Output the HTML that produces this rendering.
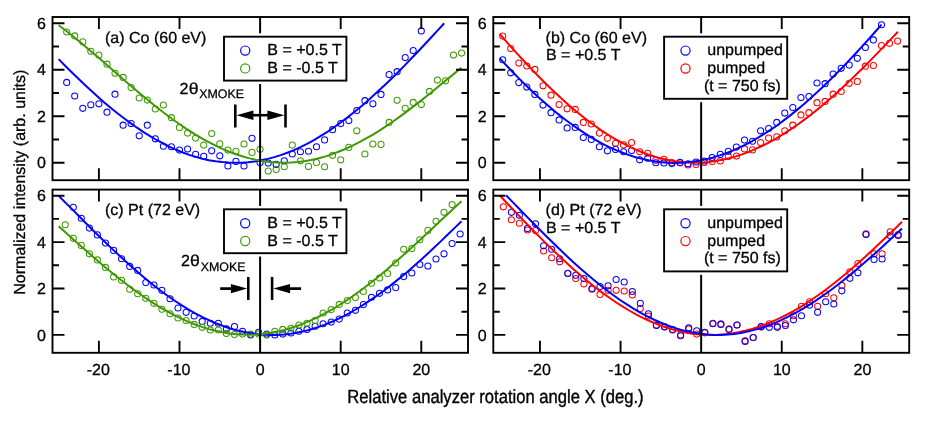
<!DOCTYPE html>
<html><head><meta charset="utf-8"><title>XMOKE analyzer scans</title>
<style>html,body{margin:0;padding:0;background:#fff}body{width:926px;height:425px;overflow:hidden;font-family:"Liberation Sans",sans-serif}svg text{stroke:#000;stroke-width:0.3px;stroke-linejoin:round}svg text.t{stroke-width:0.4px}</style></head>
<body>
<svg width="926" height="425" viewBox="0 0 926 425" style="display:block">
<rect width="926" height="425" fill="#fff"/>
<g font-family="'Liberation Sans', sans-serif" font-size="16" fill="#000" text-rendering="geometricPrecision" style="opacity:0.999">
<g fill="none" stroke-width="1.05">
<g stroke="#0000ff"><circle cx="66.7" cy="82.4" r="3.05"/><circle cx="74.7" cy="96.0" r="3.05"/><circle cx="82.8" cy="108.3" r="3.05"/><circle cx="90.8" cy="104.8" r="3.05"/><circle cx="98.9" cy="103.8" r="3.05"/><circle cx="107.0" cy="112.2" r="3.05"/><circle cx="115.0" cy="94.2" r="3.05"/><circle cx="123.1" cy="125.2" r="3.05"/><circle cx="131.1" cy="123.6" r="3.05"/><circle cx="139.2" cy="135.8" r="3.05"/><circle cx="147.3" cy="125.2" r="3.05"/><circle cx="155.3" cy="138.8" r="3.05"/><circle cx="163.4" cy="146.2" r="3.05"/><circle cx="171.4" cy="146.7" r="3.05"/><circle cx="179.5" cy="150.1" r="3.05"/><circle cx="187.6" cy="149.0" r="3.05"/><circle cx="195.6" cy="154.2" r="3.05"/><circle cx="203.7" cy="156.2" r="3.05"/><circle cx="211.7" cy="150.8" r="3.05"/><circle cx="219.8" cy="155.8" r="3.05"/><circle cx="227.9" cy="166.0" r="3.05"/><circle cx="235.9" cy="161.4" r="3.05"/><circle cx="244.0" cy="166.0" r="3.05"/><circle cx="252.0" cy="138.3" r="3.05"/><circle cx="260.1" cy="162.6" r="3.05"/><circle cx="268.2" cy="163.0" r="3.05"/><circle cx="276.2" cy="164.4" r="3.05"/><circle cx="284.3" cy="160.8" r="3.05"/><circle cx="292.3" cy="154.0" r="3.05"/><circle cx="300.4" cy="151.7" r="3.05"/><circle cx="308.5" cy="151.2" r="3.05"/><circle cx="316.5" cy="146.7" r="3.05"/><circle cx="324.6" cy="139.9" r="3.05"/><circle cx="332.6" cy="129.7" r="3.05"/><circle cx="340.7" cy="123.6" r="3.05"/><circle cx="348.8" cy="120.6" r="3.05"/><circle cx="356.8" cy="110.5" r="3.05"/><circle cx="364.9" cy="100.7" r="3.05"/><circle cx="372.9" cy="103.8" r="3.05"/><circle cx="381.0" cy="94.4" r="3.05"/><circle cx="389.1" cy="74.6" r="3.05"/><circle cx="397.1" cy="71.7" r="3.05"/><circle cx="405.2" cy="57.6" r="3.05"/><circle cx="413.2" cy="50.6" r="3.05"/><circle cx="421.3" cy="30.9" r="3.05"/></g>
<g stroke="#3f9800"><circle cx="66.7" cy="32.0" r="3.05"/><circle cx="74.7" cy="35.9" r="3.05"/><circle cx="82.8" cy="41.8" r="3.05"/><circle cx="90.8" cy="51.3" r="3.05"/><circle cx="98.9" cy="55.1" r="3.05"/><circle cx="107.0" cy="64.2" r="3.05"/><circle cx="115.0" cy="73.3" r="3.05"/><circle cx="123.1" cy="77.4" r="3.05"/><circle cx="131.1" cy="87.6" r="3.05"/><circle cx="139.2" cy="98.0" r="3.05"/><circle cx="147.3" cy="100.1" r="3.05"/><circle cx="155.3" cy="109.0" r="3.05"/><circle cx="163.4" cy="105.1" r="3.05"/><circle cx="171.4" cy="117.7" r="3.05"/><circle cx="179.5" cy="127.4" r="3.05"/><circle cx="187.6" cy="133.1" r="3.05"/><circle cx="195.6" cy="138.1" r="3.05"/><circle cx="203.7" cy="145.1" r="3.05"/><circle cx="211.7" cy="133.5" r="3.05"/><circle cx="219.8" cy="143.7" r="3.05"/><circle cx="227.9" cy="150.1" r="3.05"/><circle cx="235.9" cy="151.2" r="3.05"/><circle cx="244.0" cy="144.0" r="3.05"/><circle cx="252.0" cy="152.4" r="3.05"/><circle cx="260.1" cy="149.2" r="3.05"/><circle cx="268.2" cy="171.0" r="3.05"/><circle cx="276.2" cy="169.4" r="3.05"/><circle cx="284.3" cy="166.7" r="3.05"/><circle cx="292.3" cy="145.1" r="3.05"/><circle cx="300.4" cy="160.8" r="3.05"/><circle cx="308.5" cy="166.4" r="3.05"/><circle cx="316.5" cy="162.6" r="3.05"/><circle cx="324.6" cy="166.7" r="3.05"/><circle cx="332.6" cy="155.3" r="3.05"/><circle cx="340.7" cy="159.8" r="3.05"/><circle cx="348.8" cy="147.4" r="3.05"/><circle cx="356.8" cy="130.8" r="3.05"/><circle cx="364.9" cy="154.0" r="3.05"/><circle cx="372.9" cy="144.0" r="3.05"/><circle cx="381.0" cy="144.4" r="3.05"/><circle cx="389.1" cy="122.4" r="3.05"/><circle cx="397.1" cy="100.3" r="3.05"/><circle cx="405.2" cy="108.3" r="3.05"/><circle cx="413.2" cy="102.4" r="3.05"/><circle cx="421.3" cy="104.6" r="3.05"/><circle cx="429.4" cy="91.4" r="3.05"/><circle cx="437.4" cy="80.1" r="3.05"/><circle cx="445.5" cy="80.8" r="3.05"/><circle cx="453.5" cy="55.1" r="3.05"/><circle cx="461.6" cy="53.1" r="3.05"/></g>
</g>
<path d="M58.6,59.1 L65.1,65.7 L71.7,72.2 L78.2,78.5 L84.7,84.7 L91.3,90.8 L97.8,96.7 L104.3,102.4 L110.9,107.9 L117.4,113.2 L124.0,118.2 L130.5,123.1 L137.0,127.7 L143.6,132.1 L150.1,136.2 L156.6,140.0 L163.2,143.5 L169.7,146.8 L176.2,149.8 L182.8,152.5 L189.3,154.9 L195.8,156.9 L202.4,158.7 L208.9,160.2 L215.5,161.3 L222.0,162.1 L228.5,162.6 L235.1,162.8 L241.6,162.7 L248.1,162.2 L254.7,161.4 L261.2,160.3 L267.7,158.9 L274.3,157.1 L280.8,155.1 L287.3,152.7 L293.9,150.1 L300.4,147.1 L307.0,143.8 L313.5,140.3 L320.0,136.4 L326.6,132.3 L333.1,128.0 L339.6,123.3 L346.2,118.4 L352.7,113.3 L359.2,108.0 L365.8,102.4 L372.3,96.6 L378.8,90.6 L385.4,84.5 L391.9,78.2 L398.5,71.7 L405.0,65.1 L411.5,58.3 L418.1,51.5 L424.6,44.5 L431.1,37.5 L437.7,30.4 L444.2,23.3" fill="none" stroke="#0000ff" stroke-width="2"/>
<path d="M58.6,25.2 L65.4,30.3 L72.3,35.7 L79.1,41.2 L85.9,46.9 L92.7,52.7 L99.6,58.6 L106.4,64.5 L113.2,70.5 L120.0,76.4 L126.9,82.4 L133.7,88.2 L140.5,94.0 L147.3,99.6 L154.2,105.2 L161.0,110.5 L167.8,115.7 L174.6,120.7 L181.5,125.5 L188.3,130.1 L195.1,134.4 L201.9,138.4 L208.8,142.2 L215.6,145.7 L222.4,148.9 L229.2,151.7 L236.1,154.3 L242.9,156.5 L249.7,158.4 L256.5,160.0 L263.4,161.2 L270.2,162.1 L277.0,162.6 L283.8,162.8 L290.7,162.6 L297.5,162.1 L304.3,161.2 L311.1,160.0 L318.0,158.5 L324.8,156.6 L331.6,154.4 L338.4,151.8 L345.3,149.0 L352.1,145.9 L358.9,142.4 L365.7,138.7 L372.6,134.8 L379.4,130.6 L386.2,126.1 L393.0,121.5 L399.9,116.6 L406.7,111.6 L413.5,106.4 L420.3,101.1 L427.2,95.7 L434.0,90.2 L440.8,84.6 L447.6,79.0 L454.5,73.4 L461.3,67.8" fill="none" stroke="#3f9800" stroke-width="2"/>
<line x1="260.1" y1="17.0" x2="260.1" y2="180.2" stroke="#000" stroke-width="2"/>
<path d="M98.90,17.0v12 M98.90,180.2v-12 M179.50,17.0v12 M179.50,180.2v-12 M340.70,17.0v12 M340.70,180.2v-12 M421.30,17.0v12 M421.30,180.2v-12 M52.5,162.75h12 M468.0,162.75h-12 M52.5,139.49h6.5 M468.0,139.49h-6.5 M52.5,116.23h12 M468.0,116.23h-12 M52.5,92.97h6.5 M468.0,92.97h-6.5 M52.5,69.71h12 M468.0,69.71h-12 M52.5,46.45h6.5 M468.0,46.45h-6.5 M52.5,23.19h12 M468.0,23.19h-12" stroke="#000" stroke-width="1.9" fill="none"/>
<rect x="52.5" y="17.0" width="415.50" height="163.20" fill="none" stroke="#000" stroke-width="1.9"/>
<text x="45.9" y="168.4" text-anchor="end">0</text>
<text x="45.9" y="121.9" text-anchor="end">2</text>
<text x="45.9" y="75.4" text-anchor="end">4</text>
<text x="45.9" y="28.9" text-anchor="end">6</text>
<rect x="220.6" y="33.300000000000004" width="129.2" height="50.69999999999999" fill="#fff"/>
<rect x="224.0" y="36.7" width="122.4" height="43.9" fill="#fff" stroke="#000" stroke-width="1.9"/>
<circle cx="245.2" cy="50.6" r="4.6" fill="none" stroke="#0000ff" stroke-width="1.2"/>
<circle cx="245.2" cy="68.4" r="4.6" fill="none" stroke="#3f9800" stroke-width="1.2"/>
<text x="267.3" y="55.4">B = +0.5 T</text>
<text x="267.3" y="73.1">B = -0.5 T</text>
<text x="105.0" y="42.6">(a) Co (60 eV)</text>
<g fill="none" stroke-width="1.05">
<g stroke="#ff0000"><circle cx="502.7" cy="36.1" r="3.05"/><circle cx="510.7" cy="48.6" r="3.05"/><circle cx="518.8" cy="63.1" r="3.05"/><circle cx="526.8" cy="66.0" r="3.05"/><circle cx="534.9" cy="69.4" r="3.05"/><circle cx="543.0" cy="85.8" r="3.05"/><circle cx="551.0" cy="95.2" r="3.05"/><circle cx="559.1" cy="104.6" r="3.05"/><circle cx="567.1" cy="108.8" r="3.05"/><circle cx="575.2" cy="109.4" r="3.05"/><circle cx="583.3" cy="122.4" r="3.05"/><circle cx="591.3" cy="124.0" r="3.05"/><circle cx="599.4" cy="133.1" r="3.05"/><circle cx="607.4" cy="138.3" r="3.05"/><circle cx="615.5" cy="143.3" r="3.05"/><circle cx="623.6" cy="144.9" r="3.05"/><circle cx="631.6" cy="142.6" r="3.05"/><circle cx="639.7" cy="151.8" r="3.05"/><circle cx="647.7" cy="153.2" r="3.05"/><circle cx="655.8" cy="160.3" r="3.05"/><circle cx="663.9" cy="159.3" r="3.05"/><circle cx="671.9" cy="162.5" r="3.05"/><circle cx="680.0" cy="162.8" r="3.05"/><circle cx="688.0" cy="165.0" r="3.05"/><circle cx="696.1" cy="164.4" r="3.05"/><circle cx="704.2" cy="162.5" r="3.05"/><circle cx="712.2" cy="161.6" r="3.05"/><circle cx="720.3" cy="160.9" r="3.05"/><circle cx="728.3" cy="156.5" r="3.05"/><circle cx="736.4" cy="156.1" r="3.05"/><circle cx="744.5" cy="149.0" r="3.05"/><circle cx="752.5" cy="149.9" r="3.05"/><circle cx="760.6" cy="142.6" r="3.05"/><circle cx="768.6" cy="138.1" r="3.05"/><circle cx="776.7" cy="136.9" r="3.05"/><circle cx="784.8" cy="130.8" r="3.05"/><circle cx="792.8" cy="125.2" r="3.05"/><circle cx="800.9" cy="114.9" r="3.05"/><circle cx="808.9" cy="112.7" r="3.05"/><circle cx="817.0" cy="102.7" r="3.05"/><circle cx="825.1" cy="101.4" r="3.05"/><circle cx="833.1" cy="94.2" r="3.05"/><circle cx="841.2" cy="91.5" r="3.05"/><circle cx="849.2" cy="83.3" r="3.05"/><circle cx="857.3" cy="81.4" r="3.05"/><circle cx="865.4" cy="66.2" r="3.05"/><circle cx="873.4" cy="65.6" r="3.05"/><circle cx="881.5" cy="45.6" r="3.05"/><circle cx="889.5" cy="43.3" r="3.05"/><circle cx="897.6" cy="41.1" r="3.05"/></g>
<g stroke="#0000ff"><circle cx="502.7" cy="59.7" r="3.05"/><circle cx="510.7" cy="72.8" r="3.05"/><circle cx="518.8" cy="82.6" r="3.05"/><circle cx="526.8" cy="87.1" r="3.05"/><circle cx="534.9" cy="94.4" r="3.05"/><circle cx="543.0" cy="105.1" r="3.05"/><circle cx="551.0" cy="112.7" r="3.05"/><circle cx="559.1" cy="119.9" r="3.05"/><circle cx="567.1" cy="127.9" r="3.05"/><circle cx="575.2" cy="127.4" r="3.05"/><circle cx="583.3" cy="137.6" r="3.05"/><circle cx="591.3" cy="139.4" r="3.05"/><circle cx="599.4" cy="146.7" r="3.05"/><circle cx="607.4" cy="150.8" r="3.05"/><circle cx="615.5" cy="149.4" r="3.05"/><circle cx="623.6" cy="151.7" r="3.05"/><circle cx="631.6" cy="150.6" r="3.05"/><circle cx="639.7" cy="159.8" r="3.05"/><circle cx="647.7" cy="158.2" r="3.05"/><circle cx="655.8" cy="162.7" r="3.05"/><circle cx="663.9" cy="163.0" r="3.05"/><circle cx="671.9" cy="163.6" r="3.05"/><circle cx="680.0" cy="162.4" r="3.05"/><circle cx="688.0" cy="163.8" r="3.05"/><circle cx="696.1" cy="162.0" r="3.05"/><circle cx="704.2" cy="161.0" r="3.05"/><circle cx="712.2" cy="157.5" r="3.05"/><circle cx="720.3" cy="154.4" r="3.05"/><circle cx="728.3" cy="151.2" r="3.05"/><circle cx="736.4" cy="147.1" r="3.05"/><circle cx="744.5" cy="140.1" r="3.05"/><circle cx="752.5" cy="141.2" r="3.05"/><circle cx="760.6" cy="130.8" r="3.05"/><circle cx="768.6" cy="128.6" r="3.05"/><circle cx="776.7" cy="122.4" r="3.05"/><circle cx="784.8" cy="113.1" r="3.05"/><circle cx="792.8" cy="107.5" r="3.05"/><circle cx="800.9" cy="97.6" r="3.05"/><circle cx="808.9" cy="96.5" r="3.05"/><circle cx="817.0" cy="83.0" r="3.05"/><circle cx="825.1" cy="83.7" r="3.05"/><circle cx="833.1" cy="74.0" r="3.05"/><circle cx="841.2" cy="68.3" r="3.05"/><circle cx="849.2" cy="65.1" r="3.05"/><circle cx="857.3" cy="58.3" r="3.05"/><circle cx="865.4" cy="47.4" r="3.05"/><circle cx="873.4" cy="39.9" r="3.05"/><circle cx="881.5" cy="24.7" r="3.05"/></g>
</g>
<path d="M499.7,34.0 L506.4,41.7 L513.2,49.3 L519.9,56.7 L526.7,64.0 L533.4,71.1 L540.2,78.0 L546.9,84.8 L553.7,91.3 L560.4,97.6 L567.2,103.7 L573.9,109.5 L580.7,115.0 L587.4,120.3 L594.2,125.3 L600.9,130.1 L607.7,134.5 L614.4,138.6 L621.2,142.4 L627.9,145.9 L634.7,149.1 L641.4,152.0 L648.2,154.5 L654.9,156.7 L661.7,158.6 L668.4,160.1 L675.2,161.2 L681.9,162.1 L688.7,162.6 L695.4,162.7 L702.2,162.5 L708.9,161.9 L715.7,161.1 L722.4,159.8 L729.2,158.3 L735.9,156.4 L742.7,154.1 L749.4,151.6 L756.2,148.7 L762.9,145.5 L769.7,142.1 L776.4,138.3 L783.2,134.2 L789.9,129.9 L796.7,125.3 L803.4,120.4 L810.2,115.2 L816.9,109.9 L823.7,104.3 L830.4,98.5 L837.2,92.5 L843.9,86.3 L850.7,79.9 L857.4,73.3 L864.2,66.7 L870.9,59.9 L877.7,52.9 L884.4,45.9 L891.2,38.9 L897.9,31.7" fill="none" stroke="#ff0000" stroke-width="2"/>
<path d="M499.7,58.4 L506.2,65.3 L512.6,72.0 L519.1,78.6 L525.6,85.0 L532.1,91.2 L538.5,97.2 L545.0,103.0 L551.5,108.6 L557.9,113.9 L564.4,119.0 L570.9,123.8 L577.4,128.4 L583.8,132.7 L590.3,136.8 L596.8,140.6 L603.2,144.1 L609.7,147.3 L616.2,150.2 L622.7,152.8 L629.1,155.1 L635.6,157.2 L642.1,158.9 L648.5,160.3 L655.0,161.4 L661.5,162.2 L668.0,162.7 L674.4,162.9 L680.9,162.7 L687.4,162.3 L693.8,161.5 L700.3,160.5 L706.8,159.1 L713.2,157.4 L719.7,155.4 L726.2,153.2 L732.7,150.6 L739.1,147.7 L745.6,144.6 L752.1,141.1 L758.5,137.4 L765.0,133.4 L771.5,129.2 L778.0,124.7 L784.4,119.9 L790.9,114.9 L797.4,109.6 L803.8,104.2 L810.3,98.5 L816.8,92.6 L823.3,86.5 L829.7,80.2 L836.2,73.8 L842.7,67.2 L849.1,60.4 L855.6,53.5 L862.1,46.4 L868.6,39.3 L875.0,32.0 L881.5,24.6" fill="none" stroke="#0000ff" stroke-width="2"/>
<line x1="701.15" y1="17.0" x2="701.15" y2="180.2" stroke="#000" stroke-width="2"/>
<path d="M539.95,17.0v12 M539.95,180.2v-12 M620.55,17.0v12 M620.55,180.2v-12 M781.75,17.0v12 M781.75,180.2v-12 M862.35,17.0v12 M862.35,180.2v-12 M493.3,162.75h12 M909.2,162.75h-12 M493.3,139.49h6.5 M909.2,139.49h-6.5 M493.3,116.23h12 M909.2,116.23h-12 M493.3,92.97h6.5 M909.2,92.97h-6.5 M493.3,69.71h12 M909.2,69.71h-12 M493.3,46.45h6.5 M909.2,46.45h-6.5 M493.3,23.19h12 M909.2,23.19h-12" stroke="#000" stroke-width="1.9" fill="none"/>
<rect x="493.3" y="17.0" width="415.90" height="163.20" fill="none" stroke="#000" stroke-width="1.9"/>
<text x="486.7" y="168.4" text-anchor="end">0</text>
<text x="486.7" y="121.9" text-anchor="end">2</text>
<text x="486.7" y="75.4" text-anchor="end">4</text>
<text x="486.7" y="28.9" text-anchor="end">6</text>
<rect x="660.7" y="33.300000000000004" width="129.90000000000003" height="68.89999999999999" fill="#fff"/>
<rect x="664.1" y="36.7" width="123.1" height="62.1" fill="#fff" stroke="#000" stroke-width="1.9"/>
<circle cx="685.5" cy="50.6" r="4.6" fill="none" stroke="#0000ff" stroke-width="1.2"/>
<circle cx="685.5" cy="68.5" r="4.6" fill="none" stroke="#ff0000" stroke-width="1.2"/>
<text x="707.3" y="55.4">unpumped</text>
<text x="707.3" y="73.2">pumped</text>
<text x="703.9" y="90.8">(t = 750 fs)</text>
<text x="545.6" y="42.6">(b) Co (60 eV)</text>
<text x="546.0" y="60.2">B = +0.5 T</text>
<g fill="none" stroke-width="1.05">
<g stroke="#0000ff"><circle cx="73.3" cy="207.3" r="3.05"/><circle cx="81.3" cy="218.2" r="3.05"/><circle cx="89.4" cy="228.1" r="3.05"/><circle cx="97.4" cy="234.9" r="3.05"/><circle cx="105.5" cy="243.1" r="3.05"/><circle cx="113.6" cy="250.4" r="3.05"/><circle cx="121.6" cy="258.8" r="3.05"/><circle cx="129.7" cy="266.4" r="3.05"/><circle cx="137.7" cy="270.4" r="3.05"/><circle cx="145.8" cy="282.6" r="3.05"/><circle cx="153.9" cy="285.0" r="3.05"/><circle cx="161.9" cy="290.3" r="3.05"/><circle cx="170.0" cy="298.7" r="3.05"/><circle cx="178.0" cy="308.0" r="3.05"/><circle cx="186.1" cy="312.3" r="3.05"/><circle cx="194.2" cy="316.0" r="3.05"/><circle cx="202.2" cy="321.4" r="3.05"/><circle cx="210.3" cy="323.2" r="3.05"/><circle cx="218.3" cy="323.2" r="3.05"/><circle cx="226.4" cy="328.9" r="3.05"/><circle cx="234.5" cy="326.6" r="3.05"/><circle cx="242.5" cy="331.2" r="3.05"/><circle cx="250.6" cy="335.0" r="3.05"/><circle cx="258.6" cy="332.3" r="3.05"/><circle cx="266.7" cy="334.1" r="3.05"/><circle cx="274.8" cy="335.0" r="3.05"/><circle cx="282.8" cy="334.1" r="3.05"/><circle cx="290.9" cy="333.0" r="3.05"/><circle cx="298.9" cy="331.2" r="3.05"/><circle cx="307.0" cy="329.4" r="3.05"/><circle cx="315.1" cy="326.2" r="3.05"/><circle cx="323.1" cy="323.7" r="3.05"/><circle cx="331.2" cy="322.1" r="3.05"/><circle cx="339.2" cy="319.1" r="3.05"/><circle cx="347.3" cy="313.0" r="3.05"/><circle cx="355.4" cy="310.3" r="3.05"/><circle cx="363.4" cy="304.6" r="3.05"/><circle cx="371.5" cy="297.2" r="3.05"/><circle cx="379.5" cy="293.3" r="3.05"/><circle cx="387.6" cy="289.9" r="3.05"/><circle cx="395.7" cy="287.6" r="3.05"/><circle cx="403.7" cy="276.6" r="3.05"/><circle cx="411.8" cy="273.0" r="3.05"/><circle cx="419.8" cy="264.5" r="3.05"/><circle cx="427.9" cy="266.0" r="3.05"/><circle cx="436.0" cy="259.0" r="3.05"/><circle cx="444.0" cy="253.8" r="3.05"/><circle cx="452.1" cy="243.6" r="3.05"/><circle cx="460.1" cy="234.0" r="3.05"/></g>
<g stroke="#3f9800"><circle cx="65.2" cy="224.7" r="3.05"/><circle cx="73.3" cy="238.3" r="3.05"/><circle cx="81.3" cy="245.4" r="3.05"/><circle cx="89.4" cy="253.8" r="3.05"/><circle cx="97.4" cy="259.9" r="3.05"/><circle cx="105.5" cy="267.4" r="3.05"/><circle cx="113.6" cy="276.9" r="3.05"/><circle cx="121.6" cy="280.3" r="3.05"/><circle cx="129.7" cy="289.2" r="3.05"/><circle cx="137.7" cy="293.7" r="3.05"/><circle cx="145.8" cy="298.3" r="3.05"/><circle cx="153.9" cy="303.3" r="3.05"/><circle cx="161.9" cy="309.2" r="3.05"/><circle cx="170.0" cy="313.7" r="3.05"/><circle cx="178.0" cy="318.0" r="3.05"/><circle cx="186.1" cy="320.5" r="3.05"/><circle cx="194.2" cy="324.4" r="3.05"/><circle cx="202.2" cy="327.3" r="3.05"/><circle cx="210.3" cy="330.0" r="3.05"/><circle cx="218.3" cy="330.0" r="3.05"/><circle cx="226.4" cy="333.4" r="3.05"/><circle cx="234.5" cy="334.6" r="3.05"/><circle cx="242.5" cy="334.1" r="3.05"/><circle cx="250.6" cy="334.1" r="3.05"/><circle cx="258.6" cy="334.1" r="3.05"/><circle cx="266.7" cy="335.0" r="3.05"/><circle cx="274.8" cy="331.2" r="3.05"/><circle cx="282.8" cy="329.4" r="3.05"/><circle cx="290.9" cy="328.2" r="3.05"/><circle cx="298.9" cy="325.0" r="3.05"/><circle cx="307.0" cy="323.2" r="3.05"/><circle cx="315.1" cy="320.5" r="3.05"/><circle cx="323.1" cy="313.0" r="3.05"/><circle cx="331.2" cy="309.6" r="3.05"/><circle cx="339.2" cy="304.4" r="3.05"/><circle cx="347.3" cy="300.6" r="3.05"/><circle cx="355.4" cy="297.6" r="3.05"/><circle cx="363.4" cy="291.5" r="3.05"/><circle cx="371.5" cy="283.2" r="3.05"/><circle cx="379.5" cy="278.0" r="3.05"/><circle cx="387.6" cy="273.5" r="3.05"/><circle cx="395.7" cy="263.0" r="3.05"/><circle cx="403.7" cy="249.2" r="3.05"/><circle cx="411.8" cy="248.6" r="3.05"/><circle cx="419.8" cy="239.7" r="3.05"/><circle cx="427.9" cy="230.4" r="3.05"/><circle cx="436.0" cy="221.3" r="3.05"/><circle cx="444.0" cy="212.3" r="3.05"/><circle cx="452.1" cy="204.6" r="3.05"/></g>
</g>
<path d="M58.6,195.7 L65.4,202.6 L72.3,209.4 L79.1,216.3 L85.9,223.2 L92.7,230.0 L99.6,236.7 L106.4,243.4 L113.2,249.9 L120.1,256.3 L126.9,262.5 L133.7,268.6 L140.5,274.5 L147.4,280.2 L154.2,285.7 L161.0,291.0 L167.9,296.0 L174.7,300.7 L181.5,305.2 L188.3,309.4 L195.2,313.3 L202.0,316.9 L208.8,320.2 L215.7,323.2 L222.5,325.8 L229.3,328.2 L236.1,330.2 L243.0,331.8 L249.8,333.1 L256.6,334.1 L263.5,334.7 L270.3,335.0 L277.1,334.9 L284.0,334.4 L290.8,333.7 L297.6,332.5 L304.4,331.1 L311.3,329.2 L318.1,327.1 L324.9,324.6 L331.8,321.8 L338.6,318.7 L345.4,315.3 L352.2,311.5 L359.1,307.5 L365.9,303.2 L372.7,298.6 L379.6,293.8 L386.4,288.7 L393.2,283.4 L400.0,277.9 L406.9,272.2 L413.7,266.3 L420.5,260.2 L427.4,253.9 L434.2,247.6 L441.0,241.1 L447.8,234.5 L454.7,227.9 L461.5,221.2" fill="none" stroke="#0000ff" stroke-width="2"/>
<path d="M58.6,226.2 L65.4,232.3 L72.3,238.4 L79.1,244.5 L85.9,250.6 L92.7,256.5 L99.6,262.4 L106.4,268.2 L113.2,273.8 L120.1,279.2 L126.9,284.5 L133.7,289.6 L140.5,294.5 L147.4,299.2 L154.2,303.6 L161.0,307.8 L167.9,311.7 L174.7,315.4 L181.5,318.7 L188.3,321.8 L195.2,324.5 L202.0,326.9 L208.8,329.1 L215.7,330.8 L222.5,332.3 L229.3,333.4 L236.1,334.2 L243.0,334.6 L249.8,334.7 L256.6,334.5 L263.5,333.9 L270.3,332.9 L277.1,331.6 L284.0,330.0 L290.8,328.0 L297.6,325.7 L304.4,323.1 L311.3,320.2 L318.1,317.0 L324.9,313.4 L331.8,309.6 L338.6,305.5 L345.4,301.1 L352.2,296.5 L359.1,291.6 L365.9,286.5 L372.7,281.2 L379.6,275.7 L386.4,270.0 L393.2,264.1 L400.0,258.1 L406.9,252.0 L413.7,245.8 L420.5,239.5 L427.4,233.1 L434.2,226.7 L441.0,220.3 L447.8,213.9 L454.7,207.6 L461.5,201.3" fill="none" stroke="#3f9800" stroke-width="2"/>
<line x1="260.1" y1="189.6" x2="260.1" y2="352.8" stroke="#000" stroke-width="2"/>
<path d="M98.90,189.6v12 M98.90,352.8v-12 M179.50,189.6v12 M179.50,352.8v-12 M340.70,189.6v12 M340.70,352.8v-12 M421.30,189.6v12 M421.30,352.8v-12 M52.5,334.90h12 M468.0,334.90h-12 M52.5,311.70h6.5 M468.0,311.70h-6.5 M52.5,288.50h12 M468.0,288.50h-12 M52.5,265.30h6.5 M468.0,265.30h-6.5 M52.5,242.10h12 M468.0,242.10h-12 M52.5,218.90h6.5 M468.0,218.90h-6.5 M52.5,195.70h12 M468.0,195.70h-12" stroke="#000" stroke-width="1.9" fill="none"/>
<rect x="52.5" y="189.6" width="415.50" height="163.20" fill="none" stroke="#000" stroke-width="1.9"/>
<text x="45.9" y="340.6" text-anchor="end">0</text>
<text x="45.9" y="294.2" text-anchor="end">2</text>
<text x="45.9" y="247.8" text-anchor="end">4</text>
<text x="45.9" y="201.4" text-anchor="end">6</text>
<text x="98.3" y="374.6" text-anchor="middle">-20</text>
<text x="178.9" y="374.6" text-anchor="middle">-10</text>
<text x="260.1" y="374.6" text-anchor="middle">0</text>
<text x="340.7" y="374.6" text-anchor="middle">10</text>
<text x="421.3" y="374.6" text-anchor="middle">20</text>
<rect x="220.6" y="205.9" width="129.2" height="50.699999999999974" fill="#fff"/>
<rect x="224.0" y="209.3" width="122.4" height="43.9" fill="#fff" stroke="#000" stroke-width="1.9"/>
<circle cx="245.2" cy="223.2" r="4.6" fill="none" stroke="#0000ff" stroke-width="1.2"/>
<circle cx="245.2" cy="241.0" r="4.6" fill="none" stroke="#3f9800" stroke-width="1.2"/>
<text x="267.3" y="228.0">B = +0.5 T</text>
<text x="267.3" y="245.7">B = -0.5 T</text>
<text x="105.0" y="215.2">(c) Pt (72 eV)</text>
<g fill="none" stroke-width="1.05">
<g stroke="#ff0000"><circle cx="503.3" cy="206.8" r="3.05"/><circle cx="511.4" cy="219.7" r="3.05"/><circle cx="519.4" cy="223.2" r="3.05"/><circle cx="527.5" cy="230.0" r="3.05"/><circle cx="535.5" cy="230.6" r="3.05"/><circle cx="543.6" cy="251.0" r="3.05"/><circle cx="551.7" cy="257.8" r="3.05"/><circle cx="559.7" cy="261.8" r="3.05"/><circle cx="567.8" cy="273.3" r="3.05"/><circle cx="575.8" cy="278.5" r="3.05"/><circle cx="583.9" cy="284.0" r="3.05"/><circle cx="592.0" cy="289.2" r="3.05"/><circle cx="600.0" cy="294.4" r="3.05"/><circle cx="608.1" cy="290.3" r="3.05"/><circle cx="616.1" cy="290.3" r="3.05"/><circle cx="624.2" cy="291.0" r="3.05"/><circle cx="632.3" cy="294.9" r="3.05"/><circle cx="640.3" cy="308.5" r="3.05"/><circle cx="648.4" cy="316.0" r="3.05"/><circle cx="656.4" cy="325.0" r="3.05"/><circle cx="664.5" cy="326.6" r="3.05"/><circle cx="672.6" cy="330.0" r="3.05"/><circle cx="680.6" cy="335.0" r="3.05"/><circle cx="688.7" cy="328.9" r="3.05"/><circle cx="696.7" cy="334.1" r="3.05"/><circle cx="704.8" cy="332.8" r="3.05"/><circle cx="712.9" cy="323.2" r="3.05"/><circle cx="720.9" cy="323.9" r="3.05"/><circle cx="729.0" cy="328.9" r="3.05"/><circle cx="737.0" cy="325.0" r="3.05"/><circle cx="745.1" cy="340.7" r="3.05"/><circle cx="753.2" cy="337.5" r="3.05"/><circle cx="761.2" cy="327.1" r="3.05"/><circle cx="769.3" cy="323.7" r="3.05"/><circle cx="777.3" cy="326.2" r="3.05"/><circle cx="785.4" cy="323.7" r="3.05"/><circle cx="793.5" cy="315.7" r="3.05"/><circle cx="801.5" cy="306.2" r="3.05"/><circle cx="809.6" cy="301.7" r="3.05"/><circle cx="817.6" cy="306.2" r="3.05"/><circle cx="825.7" cy="293.7" r="3.05"/><circle cx="833.8" cy="297.8" r="3.05"/><circle cx="841.8" cy="285.4" r="3.05"/><circle cx="849.9" cy="271.7" r="3.05"/><circle cx="857.9" cy="263.5" r="3.05"/><circle cx="866.0" cy="233.9" r="3.05"/><circle cx="874.1" cy="253.8" r="3.05"/><circle cx="882.1" cy="253.8" r="3.05"/><circle cx="890.2" cy="231.8" r="3.05"/><circle cx="898.2" cy="234.5" r="3.05"/></g>
<g stroke="#0000ff"><circle cx="511.4" cy="212.3" r="3.05"/><circle cx="519.4" cy="215.2" r="3.05"/><circle cx="527.5" cy="228.4" r="3.05"/><circle cx="535.5" cy="223.8" r="3.05"/><circle cx="543.6" cy="245.8" r="3.05"/><circle cx="551.7" cy="249.2" r="3.05"/><circle cx="559.7" cy="258.8" r="3.05"/><circle cx="567.8" cy="273.5" r="3.05"/><circle cx="575.8" cy="275.2" r="3.05"/><circle cx="583.9" cy="278.6" r="3.05"/><circle cx="592.0" cy="288.5" r="3.05"/><circle cx="600.0" cy="286.5" r="3.05"/><circle cx="608.1" cy="285.8" r="3.05"/><circle cx="616.1" cy="279.5" r="3.05"/><circle cx="624.2" cy="282.0" r="3.05"/><circle cx="632.3" cy="291.5" r="3.05"/><circle cx="640.3" cy="303.3" r="3.05"/><circle cx="648.4" cy="313.7" r="3.05"/><circle cx="656.4" cy="325.5" r="3.05"/><circle cx="664.5" cy="327.1" r="3.05"/><circle cx="672.6" cy="329.6" r="3.05"/><circle cx="680.6" cy="335.7" r="3.05"/><circle cx="688.7" cy="327.8" r="3.05"/><circle cx="696.7" cy="330.7" r="3.05"/><circle cx="704.8" cy="332.3" r="3.05"/><circle cx="712.9" cy="323.7" r="3.05"/><circle cx="720.9" cy="324.4" r="3.05"/><circle cx="729.0" cy="329.6" r="3.05"/><circle cx="737.0" cy="325.0" r="3.05"/><circle cx="745.1" cy="341.4" r="3.05"/><circle cx="753.2" cy="337.5" r="3.05"/><circle cx="761.2" cy="326.6" r="3.05"/><circle cx="769.3" cy="327.3" r="3.05"/><circle cx="777.3" cy="327.3" r="3.05"/><circle cx="785.4" cy="325.5" r="3.05"/><circle cx="793.5" cy="319.8" r="3.05"/><circle cx="801.5" cy="315.7" r="3.05"/><circle cx="809.6" cy="305.1" r="3.05"/><circle cx="817.6" cy="312.3" r="3.05"/><circle cx="825.7" cy="301.7" r="3.05"/><circle cx="833.8" cy="304.0" r="3.05"/><circle cx="841.8" cy="290.8" r="3.05"/><circle cx="849.9" cy="278.3" r="3.05"/><circle cx="857.9" cy="272.8" r="3.05"/><circle cx="866.0" cy="234.5" r="3.05"/><circle cx="874.1" cy="259.4" r="3.05"/><circle cx="882.1" cy="259.0" r="3.05"/><circle cx="890.2" cy="235.6" r="3.05"/><circle cx="898.2" cy="235.6" r="3.05"/></g>
</g>
<path d="M499.6,195.3 L506.4,202.5 L513.2,209.8 L520.1,216.9 L526.9,224.0 L533.7,231.0 L540.5,237.9 L547.3,244.7 L554.2,251.3 L561.0,257.8 L567.8,264.1 L574.6,270.2 L581.4,276.1 L588.3,281.8 L595.1,287.2 L601.9,292.4 L608.7,297.3 L615.5,302.0 L622.4,306.4 L629.2,310.5 L636.0,314.3 L642.8,317.8 L649.6,321.0 L656.5,323.9 L663.3,326.5 L670.1,328.7 L676.9,330.6 L683.7,332.2 L690.6,333.4 L697.4,334.3 L704.2,334.8 L711.0,335.0 L717.9,334.8 L724.7,334.3 L731.5,333.5 L738.3,332.3 L745.1,330.8 L752.0,329.0 L758.8,326.8 L765.6,324.3 L772.4,321.5 L779.2,318.4 L786.1,315.0 L792.9,311.3 L799.7,307.3 L806.5,303.1 L813.3,298.5 L820.2,293.8 L827.0,288.7 L833.8,283.5 L840.6,278.0 L847.4,272.4 L854.3,266.5 L861.1,260.5 L867.9,254.3 L874.7,248.0 L881.5,241.6 L888.4,235.1 L895.2,228.5 L902.0,221.8" fill="none" stroke="#ff0000" stroke-width="2"/>
<path d="M506.0,195.3 L512.7,202.1 L519.4,209.0 L526.1,215.9 L532.8,222.7 L539.6,229.5 L546.3,236.2 L553.0,242.8 L559.7,249.3 L566.4,255.7 L573.1,261.9 L579.8,268.0 L586.5,273.8 L593.3,279.5 L600.0,285.0 L606.7,290.2 L613.4,295.2 L620.1,300.0 L626.8,304.4 L633.5,308.6 L640.2,312.6 L646.9,316.2 L653.7,319.5 L660.4,322.5 L667.1,325.2 L673.8,327.6 L680.5,329.7 L687.2,331.4 L693.9,332.8 L700.6,333.8 L707.4,334.5 L714.1,334.9 L720.8,334.9 L727.5,334.6 L734.2,333.9 L740.9,332.9 L747.6,331.6 L754.3,329.9 L761.1,328.0 L767.8,325.7 L774.5,323.1 L781.2,320.1 L787.9,316.9 L794.6,313.4 L801.3,309.7 L808.0,305.6 L814.7,301.3 L821.5,296.7 L828.2,292.0 L834.9,287.0 L841.6,281.8 L848.3,276.4 L855.0,270.8 L861.7,265.1 L868.4,259.2 L875.2,253.2 L881.9,247.2 L888.6,241.0 L895.3,234.8 L902.0,228.6" fill="none" stroke="#0000ff" stroke-width="2"/>
<line x1="701.15" y1="189.6" x2="701.15" y2="352.8" stroke="#000" stroke-width="2"/>
<path d="M539.95,189.6v12 M539.95,352.8v-12 M620.55,189.6v12 M620.55,352.8v-12 M781.75,189.6v12 M781.75,352.8v-12 M862.35,189.6v12 M862.35,352.8v-12 M493.3,334.90h12 M909.2,334.90h-12 M493.3,311.70h6.5 M909.2,311.70h-6.5 M493.3,288.50h12 M909.2,288.50h-12 M493.3,265.30h6.5 M909.2,265.30h-6.5 M493.3,242.10h12 M909.2,242.10h-12 M493.3,218.90h6.5 M909.2,218.90h-6.5 M493.3,195.70h12 M909.2,195.70h-12" stroke="#000" stroke-width="1.9" fill="none"/>
<rect x="493.3" y="189.6" width="415.90" height="163.20" fill="none" stroke="#000" stroke-width="1.9"/>
<text x="486.7" y="340.6" text-anchor="end">0</text>
<text x="486.7" y="294.2" text-anchor="end">2</text>
<text x="486.7" y="247.8" text-anchor="end">4</text>
<text x="486.7" y="201.4" text-anchor="end">6</text>
<text x="539.3" y="374.6" text-anchor="middle">-20</text>
<text x="619.9" y="374.6" text-anchor="middle">-10</text>
<text x="701.1" y="374.6" text-anchor="middle">0</text>
<text x="781.8" y="374.6" text-anchor="middle">10</text>
<text x="862.4" y="374.6" text-anchor="middle">20</text>
<rect x="660.7" y="205.9" width="129.90000000000003" height="68.89999999999996" fill="#fff"/>
<rect x="664.1" y="209.3" width="123.1" height="62.1" fill="#fff" stroke="#000" stroke-width="1.9"/>
<circle cx="685.5" cy="223.2" r="4.6" fill="none" stroke="#0000ff" stroke-width="1.2"/>
<circle cx="685.5" cy="241.1" r="4.6" fill="none" stroke="#ff0000" stroke-width="1.2"/>
<text x="707.3" y="228.0">unpumped</text>
<text x="707.3" y="245.8">pumped</text>
<text x="703.9" y="263.4">(t = 750 fs)</text>
<text x="545.6" y="215.2">(d) Pt (72 eV)</text>
<text x="546.0" y="232.8">B = +0.5 T</text>
<text x="179.6" y="94.1">2</text><text transform="translate(188.7,94.1) scale(1.1,1)">θ</text><text x="199.2" y="98.3" font-size="12.4">XMOKE</text>
<path d="M235.3,104.6V127.5 M285.5,104.6V127.5" stroke="#000" stroke-width="2.6" fill="none"/>
<path d="M250,115.2H271" stroke="#000" stroke-width="2.6" fill="none"/>
<path d="M236.4,115.2L253.4,110.5V119.9Z M284.4,115.2L267.4,110.5V119.9Z" fill="#000"/>
<text x="181.0" y="266.4">2</text><text transform="translate(190.1,266.4) scale(1.1,1)">θ</text><text x="200.7" y="270.7" font-size="12.4">XMOKE</text>
<path d="M248.3,277.1V300.1 M272.1,277.1V300.1" stroke="#000" stroke-width="2.6" fill="none"/>
<path d="M220.2,288.6H234 M301.1,288.6H287" stroke="#000" stroke-width="2.6" fill="none"/>
<path d="M247.2,288.6L230.9,284V293.2Z M273.2,288.6L290.1,284V293.2Z" fill="#000"/>
<text transform="translate(25.3,182.2) rotate(-90)" text-anchor="middle">Normalized intensity (arb. units)</text>
<text transform="translate(495.5,402.8) scale(0.874,1)" font-size="19" class="t" text-anchor="middle">Relative analyzer rotation angle X (deg.)</text>
</g></svg>
</body></html>
